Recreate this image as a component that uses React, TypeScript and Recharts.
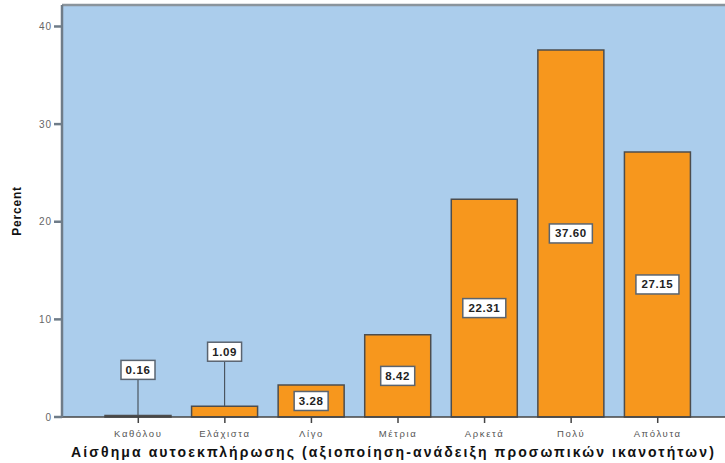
import React from "react";
import {
	BarChart,
	Bar,
	XAxis,
	YAxis,
	CartesianGrid,
	ReferenceLine,
	LabelList
} from "recharts";

const categories = [
	"Καθόλου",
	"Ελάχιστα",
	"Λίγο",
	"Μέτρια",
	"Αρκετά",
	"Πολύ",
	"Απόλυτα"
];
const percents = [0.16, 1.09, 3.28, 8.42, 22.31, 37.6, 27.15];
const yTicks = [0, 10, 20, 30, 40];

const data = categories.map((name, i) => ({ name, percent: percents[i] }));

const Y_MAX = 42.2;
const FONT = "'Liberation Sans', Arial, sans-serif";

// white value tag; short bars get it lifted above with a leader line
const ValueTag = (props: any) => {
	const { x, y, width, height, value } = props;
	const text = Number(value).toFixed(2);
	const boxW = text.length * 9 - 2;
	const boxH = 19;
	const cx = x + width / 2;
	const short = height < 16;
	const cy = short ? y - (44 + height) : y + height / 2;
	return (
		<g>
			{short && (
				<line
					x1={cx}
					y1={cy + boxH / 2}
					x2={cx}
					y2={y}
					stroke="#4a5560"
					strokeWidth={1.2}
				/>
			)}
			<rect
				x={cx - boxW / 2}
				y={cy - boxH / 2}
				width={boxW}
				height={boxH}
				fill="#ffffff"
				stroke="#5a6470"
				strokeWidth={1.5}
			/>
			<text
				x={cx}
				y={cy}
				textAnchor="middle"
				dominantBaseline="central"
				fontFamily={FONT}
				fontSize={11.5}
				fontWeight="bold"
				letterSpacing={0.6}
				fill="#222"
			>
				{text}
			</text>
		</g>
	);
};

// rotated axis title, centred on the plot height
const PercentTitle = (props: any) => {
	const { viewBox } = props;
	const cy = viewBox.y + viewBox.height / 2;
	return (
		<text
			x={17}
			y={cy}
			transform={`rotate(-90 17 ${cy})`}
			textAnchor="middle"
			dominantBaseline="central"
			fontFamily={FONT}
			fontSize={12}
			fontWeight="bold"
			letterSpacing={0.8}
			fill="#111"
		>
			Percent
		</text>
	);
};

const App = () => {
	return (
		<div style={{ position: "absolute", left: 0, top: 0 }}>
			<BarChart
				width={725}
				height={463}
				data={data}
				margin={{ top: 5, right: 0, bottom: 16, left: 12 }}
			>
				<CartesianGrid
					fill="#abcdec"
					stroke="none"
					horizontal={false}
					vertical={false}
				/>
				<ReferenceLine y={Y_MAX} stroke="#8a949c" strokeWidth={2.5} />
				<XAxis
					dataKey="name"
					padding={{ left: 33, right: 24 }}
					height={30}
					tickSize={6}
					tickMargin={7}
					stroke="#444"
					strokeWidth={1.5}
					tick={{
						fontFamily: FONT,
						fontSize: 9.5,
						letterSpacing: 1.6,
						fill: "#555"
					}}
					label={{
						value:
							"Αίσθημα αυτοεκπλήρωσης (αξιοποίηση-ανάδειξη προσωπικών ικανοτήτων)",
						position: "insideBottom",
						offset: -10,
						fontFamily: FONT,
						fontSize: 14,
						fontWeight: "bold",
						letterSpacing: 2.1,
						fill: "#111"
					}}
				/>
				<YAxis
					width={50}
					domain={[0, Y_MAX]}
					ticks={yTicks}
					tickSize={8}
					tickMargin={2}
					stroke="#6f7c88"
					strokeWidth={2.5}
					tick={{
						fontFamily: FONT,
						fontSize: 10,
						letterSpacing: 1,
						fill: "#666"
					}}
					label={<PercentTitle />}
				/>
				<Bar
					dataKey="percent"
					barSize={66}
					fill="#f7971d"
					stroke="#4d4d4d"
					strokeWidth={1.5}
					isAnimationActive={false}
				>
					<LabelList dataKey="percent" content={ValueTag} />
				</Bar>
			</BarChart>
		</div>
	);
};

export default App;
